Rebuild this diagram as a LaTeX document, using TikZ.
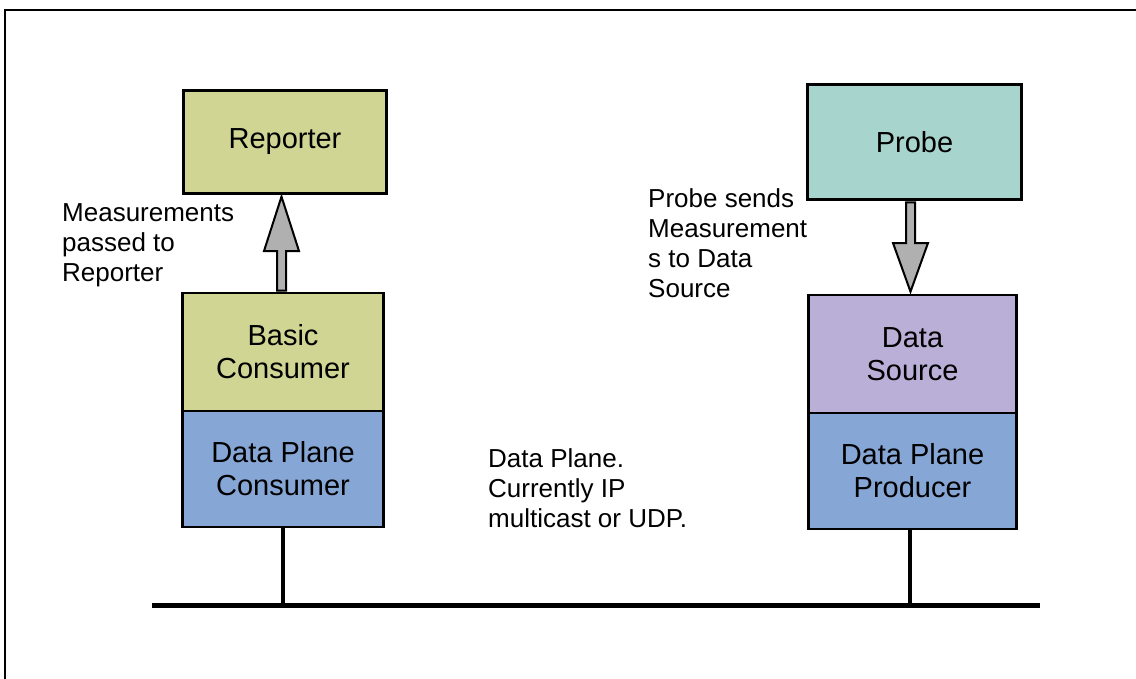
\documentclass[tikz,border=0pt]{standalone}
\usepackage{fontspec}
\setmainfont{Liberation Sans}
\usetikzlibrary{calc}
\definecolor{khakicol}{RGB}{208,213,148}
\definecolor{probecol}{RGB}{168,212,206}
\definecolor{srccol}{RGB}{186,175,214}
\definecolor{planecol}{RGB}{134,166,214}
\definecolor{arrgray}{RGB}{176,176,176}
\begin{document}
\begin{tikzpicture}[x=1pt,y=-1pt,
  box/.style={draw=black, line width=2.7pt, inner sep=0pt, align=center,
    font=\fontsize{29}{33}\selectfont},
  lbl/.style={anchor=north west, inner sep=0pt, align=left,
    font=\fontsize{26}{30}\selectfont},
  fatarrow/.style={draw=black, line width=2pt, fill=arrgray, line join=miter},
  wire/.style={line width=4.8pt}]
\useasboundingbox (0,0) rectangle (1136,678);
\begin{scope}
\clip (0,0) rectangle (1136,678);
\draw[line width=2.5pt] (5,10) rectangle (1170,720);
\end{scope}

% left column
\node[box, fill=khakicol, minimum width=203.5pt, minimum height=103.5pt] (rep) at (285,142) {Reporter};
\node[box, fill=khakicol, minimum width=201.5pt, minimum height=118pt] (bc) at (283,352) {Basic\\Consumer};
\node[box, fill=planecol, minimum width=201.5pt, minimum height=116pt] (dpc) at (283,469) {Data Plane\\Consumer};

% right column
\node[box, fill=probecol, minimum width=214pt, minimum height=115pt] (probe) at (914.5,142) {Probe};
\node[box, fill=srccol, minimum width=208.5pt, minimum height=118pt] (ds) at (912.5,354) {Data\\Source};
\node[box, fill=planecol, minimum width=208.5pt, minimum height=116pt] (dpp) at (912.5,471) {Data Plane\\Producer};

% labels
\node[lbl] (l1) at (62,203.5) {Measurements\\passed to\\Reporter};
\node[lbl] (l2) at (648,188) {Probe sends\\Measurement\\s to Data\\Source};
\node[lbl] (l3) at (488,448) {Data Plane.\\Currently IP\\multicast or UDP.};

% up arrow (Basic Consumer -> Reporter)
\coordinate (ub) at ($(bc.north)+(-1.5,-1)$);
\coordinate (ut) at ($(rep.south)+(-3.5,1.5)$);
\draw[fatarrow] ($(ub)+(-4.5,0)$) -- ($(ub |- 0,251)+(-4.5,0)$) -- ($(ub |- 0,251)+(-17.5,0)$)
  -- (ut) -- ($(ub |- 0,251)+(17.5,0)$) -- ($(ub |- 0,251)+(4.5,0)$) -- ($(ub)+(4.5,0)$) -- cycle;

% down arrow (Probe -> Data Source)
\coordinate (dt) at ($(probe.south)+(-4,1.5)$);
\coordinate (db) at ($(ds.north)+(-2,-2)$);
\draw[fatarrow] ($(dt)+(-4.5,0)$) -- ($(dt |- 0,243)+(-4.5,0)$) -- ($(dt |- 0,243)+(-17.5,0)$)
  -- (db) -- ($(dt |- 0,243)+(17.5,0)$) -- ($(dt |- 0,243)+(4.5,0)$) -- ($(dt)+(4.5,0)$) -- cycle;

% network bus
\coordinate (busl) at (152,605.5);
\coordinate (busr) at (1040,605.5);
\draw[wire] (busl) -- (busr);
\coordinate (t1) at (dpc.south |- busl);
\coordinate (t2) at ($(dpp.south |- busl)+(-2.5,0)$);
\draw[wire] (dpc.south) -- (t1);
\draw[wire] ($(dpp.south)+(-2.5,0)$) -- (t2);
\end{tikzpicture}
\end{document}
